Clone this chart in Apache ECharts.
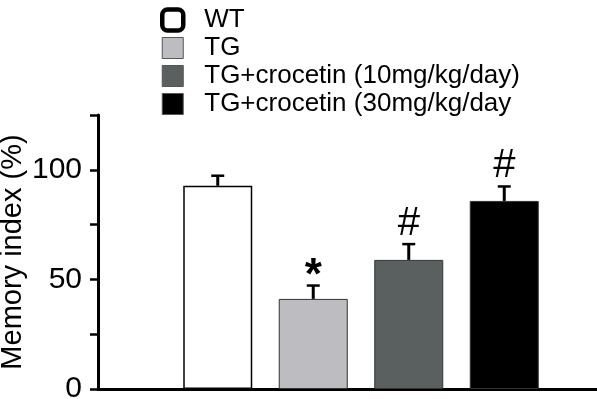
<!DOCTYPE html>
<html>
<head>
<meta charset="utf-8">
<script src="https://cdn.jsdelivr.net/npm/echarts@6/dist/echarts.min.js"></script>
<style>
html,body{margin:0;padding:0;background:#fff;}
#chart{width:597px;height:399px;}
</style>
</head>
<body>
<div id="chart"></div>
<script>
// ---- data ----
var groups = ['WT', 'TG', 'TG+crocetin (10mg/kg/day)', 'TG+crocetin (30mg/kg/day'];
var means = [92.7, 41.1, 58.9, 85.8];
var errors = [4.6, 6.1, 7.2, 6.6];
var marks = ['', '*', '#', '#'];
var yTicks = [0, 50, 100];

var colors = ['#ffffff', '#bdbdc1', '#5a5f60', '#000000'];
var FONT = '"Liberation Sans", Arial, sans-serif';

var chart = echarts.init(document.getElementById('chart'));

var barSeries = groups.map(function (g, i) {
  var d = groups.map(function () { return '-'; });
  d[i] = means[i];
  return {
    name: g,
    type: 'bar',
    xAxisIndex: 0,
    yAxisIndex: 0,
    barWidth: 69,
    barGap: '-100%',
    data: d,
    itemStyle: {
      color: colors[i],
      borderColor: i === 0 ? '#000' : '#333',
      borderWidth: i === 0 ? 1.5 : 1
    },
    z: 2
  };
});

var errData = groups.map(function (g, i) { return [i, means[i], errors[i]]; });

var errSeries = {
  type: 'custom',
  xAxisIndex: 0,
  yAxisIndex: 0,
  data: errData,
  z: 5,
  silent: true,
  renderItem: function (params, api) {
    var x = api.value(0), m = api.value(1), e = api.value(2);
    var base = api.coord([x, m]);
    var top = api.coord([x, m + e]);
    var children = [
      { type: 'line', shape: { x1: base[0], y1: base[1], x2: top[0], y2: top[1] },
        style: { stroke: '#000', lineWidth: 3 } },
      { type: 'line', shape: { x1: top[0] - 6.5, y1: top[1], x2: top[0] + 6.5, y2: top[1] },
        style: { stroke: '#000', lineWidth: 2.5 } }
    ];
    var mk = marks[params.dataIndex];
    if (mk) {
      var isStar = mk === '*';
      children.push({
        type: 'text',
        style: {
          text: mk,
          x: top[0],
          y: top[1] + (isStar ? 13 : 0),
          align: 'center',
          verticalAlign: 'bottom',
          fontFamily: FONT,
          fontSize: isStar ? 44 : 40,
          fontWeight: isStar ? 'bold' : 'normal',
          fill: '#000'
        }
      });
    }
    return { type: 'group', children: children };
  }
};

var option = {
  backgroundColor: '#fff',
  animation: false,
  legend: {
    orient: 'vertical',
    left: 155,
    top: 2,
    itemWidth: 21,
    itemHeight: 21,
    itemGap: 2,
    selectedMode: false,
    textStyle: { fontFamily: FONT, fontSize: 26, color: '#000', padding: [0, 0, 0, 16] },
    data: groups.map(function (g, i) {
      if (i === 0) {
        return { name: g, icon: 'roundRect', itemStyle: { color: '#fff', borderColor: '#000', borderWidth: 4.5 } };
      }
      return { name: g, icon: 'rect', itemStyle: { color: colors[i], borderColor: '#555', borderWidth: 1 } };
    })
  },
  grid: [
    { left: 170, right: 45, top: 115, bottom: 10, containLabel: false, outerBoundsMode: 'none' },
    { left: 98, right: 0, top: 115, bottom: 10, containLabel: false, outerBoundsMode: 'none' }
  ],
  xAxis: [
    {
      type: 'category',
      gridIndex: 0,
      data: groups,
      axisLine: { show: false },
      axisTick: { show: false },
      axisLabel: { show: false },
      splitLine: { show: false }
    },
    {
      type: 'value',
      gridIndex: 1,
      min: 0,
      max: 1,
      axisLine: { show: true, onZero: false, lineStyle: { color: '#000', width: 3 } },
      axisTick: { show: false },
      axisLabel: { show: false },
      splitLine: { show: false }
    }
  ],
  yAxis: [
    {
      type: 'value',
      gridIndex: 0,
      min: 0,
      max: 125,
      interval: 25,
      offset: 72,
      name: 'Memory index (%)',
      nameLocation: 'middle',
      nameGap: 71,
      nameMoveOverlap: false,
      nameTextStyle: { fontFamily: FONT, fontSize: 29, color: '#000' },
      axisLine: { show: true, onZero: false, lineStyle: { color: '#000', width: 3 } },
      axisTick: { show: true, length: 8, lineStyle: { color: '#000', width: 2.5 } },
      axisLabel: {
        margin: 16,
        fontFamily: FONT,
        fontSize: 30,
        color: '#000',
        formatter: function (v) { return yTicks.indexOf(v) >= 0 ? String(v) : ''; }
      },
      splitLine: { show: false }
    },
    {
      type: 'value',
      gridIndex: 1,
      min: 0,
      max: 125,
      show: false
    }
  ],
  series: barSeries.concat([errSeries])
};

chart.setOption(option);
</script>
</body>
</html>
